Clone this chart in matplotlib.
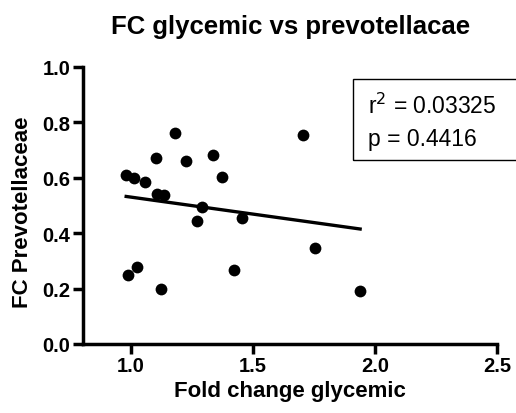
import matplotlib

matplotlib.use("Agg")
import matplotlib.pyplot as plt
import numpy as np
from matplotlib.patches import Rectangle

plt.rcParams.update({
    "font.family": ["Liberation Sans", "DejaVu Sans"],
    "axes.linewidth": 2.5,
})

fold_glycemic = [0.980, 1.012, 1.057, 1.102, 1.180, 1.225, 1.337, 1.372, 1.108, 1.135,
                 1.290, 1.272, 1.456, 1.706, 1.754, 0.989, 1.026, 1.422, 1.123, 1.939]
fc_prevotella = [0.610, 0.598, 0.586, 0.671, 0.762, 0.662, 0.682, 0.602, 0.541, 0.538,
                 0.493, 0.445, 0.454, 0.755, 0.348, 0.250, 0.279, 0.267, 0.199, 0.190]
r_squared = "0.03325"
p_value = "0.4416"

x = np.array(fold_glycemic)
y = np.array(fc_prevotella)
slope, intercept = np.polyfit(x, y, 1)
xs = np.array([x.min(), x.max()])

W, H = 516, 414
fig = plt.figure(figsize=(W / 100, H / 100), dpi=100)
ax = fig.add_axes([83 / W, 1 - 345 / H, (497 - 83) / W, (345 - 68) / H])

ax.scatter(x, y, s=72, color="black", zorder=3, linewidths=0)
ax.plot(xs, intercept + slope * xs, color="black", linewidth=2.4, zorder=2)

ax.set_xlim(0.803, 2.5)
ax.set_ylim(0, 1.0)
ax.set_xticks([1.0, 1.5, 2.0, 2.5])
ax.set_yticks([0.0, 0.2, 0.4, 0.6, 0.8, 1.0])
ax.set_xticklabels(["1.0", "1.5", "2.0", "2.5"], fontweight="bold")
ax.set_yticklabels(["0.0", "0.2", "0.4", "0.6", "0.8", "1.0"], fontweight="bold")
ax.tick_params(axis="both", direction="out", length=7, width=2.5, labelsize=14.5,
               color="black", pad=2)
for s in ("top", "right"):
    ax.spines[s].set_visible(False)
ax.spines["left"].set_bounds(0, 1.0)
ax.set_xlabel("Fold change glycemic", fontsize=16, fontweight="bold", va="center")
ax.xaxis.set_label_coords(0.5, -47 / 277)
ax.set_ylabel("FC Prevotellaceae", fontsize=16, fontweight="bold", va="center")
ax.yaxis.set_label_coords(-61 / 414, 0.478)

fig.text(291 / W, 1 - 27 / H, "FC glycemic vs prevotellacae", ha="center", va="center",
         fontsize=18.5, fontweight="bold")

fig.patches.append(Rectangle((352.7 / W, 1 - 161 / H), 0.5, (161 - 80) / H,
                             transform=fig.transFigure, fill=False,
                             edgecolor="black", linewidth=1.0))
fig.text(368 / W, 1 - 106 / H, f"r$^2$ = {r_squared}", ha="left", va="center", fontsize=16.5)
fig.text(368 / W, 1 - 140 / H, f"p = {p_value}", ha="left", va="center", fontsize=16.5)

fig.savefig("out.png", dpi=100)
